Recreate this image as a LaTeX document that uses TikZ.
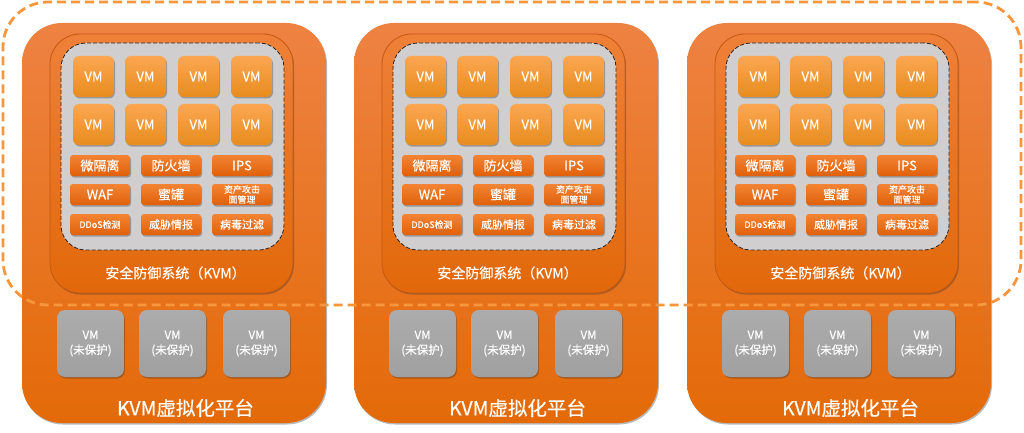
\documentclass[tikz,border=0pt]{standalone}
\usepackage{fontspec}
\setmainfont{Noto Sans CJK SC}[FakeBold=0.35]
\usetikzlibrary{shadows}
\definecolor{platTop}{RGB}{238,130,66}
\definecolor{platBot}{RGB}{228,106,8}
\definecolor{secTop}{RGB}{238,128,56}
\definecolor{secBot}{RGB}{226,104,10}
\definecolor{secEdge}{RGB}{196,88,20}
\definecolor{greyArea}{RGB}{208,206,206}
\definecolor{vmTop}{RGB}{251,166,82}
\definecolor{vmBot}{RGB}{232,140,30}
\definecolor{btnTop}{RGB}{243,132,52}
\definecolor{btnBot}{RGB}{224,96,10}
\definecolor{upTop}{RGB}{172,172,172}
\definecolor{upBot}{RGB}{160,160,160}
\definecolor{dashOrange}{RGB}{247,150,60}
\begin{document}
\begin{tikzpicture}[x=1pt,y=-1pt,
  box/.style={inner sep=0pt,outer sep=0pt},
  shad/.style={drop shadow={shadow xshift=1pt,shadow yshift=-1.5pt,opacity=0.35,fill=black!80}},
  platform/.style={box,rounded corners=40pt,top color=platTop,bottom color=platBot,minimum width=304pt,minimum height=400pt,shad},
  secbox/.style={box,rounded corners=30pt,top color=secTop,bottom color=secBot,draw=secEdge,line width=0.8pt,minimum width=243pt,minimum height=259pt,shad},
  greybox/.style={box,rounded corners=25pt,fill=greyArea,draw=black!85,line width=0.8pt,dash pattern=on 4pt off 2pt,minimum width=223pt,minimum height=207pt},
  vmbox/.style={box,rounded corners=6pt,top color=vmTop,bottom color=vmBot,minimum width=41pt,minimum height=41pt,text=white,font=\fontsize{13}{15}\selectfont,shad},
  btn/.style={box,rounded corners=3pt,top color=btnTop,bottom color=btnBot,minimum width=60pt,minimum height=21pt,text=white,align=center,font=\fontsize{13}{14}\selectfont,shad},
  upvm/.style={box,rounded corners=8pt,top color=upTop,bottom color=upBot,minimum width=67pt,minimum height=67pt,text=white,align=center,font=\fontsize{11.5}{15}\selectfont,shad},
  lbl/.style={box,text=white},
  group/.style={box,rounded corners=45pt,draw=dashOrange,line width=2.8pt,dash pattern=on 9pt off 5pt,minimum width=1018pt,minimum height=303pt}
]
\useasboundingbox (0,0) rectangle (1024,433);
\foreach \i/\dx in {1/0,2/332,3/665}{
  \node[platform] (plat\i) at (\dx+174,223) {};
  \node[secbox] (sec\i) at (\dx+171.5,163.5) {};
  \node[greybox] (grey\i) at (\dx+172.5,146.5) {};
  \foreach \r/\y in {1/76.5,2/124.5}{
    \foreach \c/\x in {1/93.5,2/145.5,3/198.5,4/251.5}{
      \node[vmbox] (vm\i-\r-\c) at (\dx+\x,\y) {VM};
    }
  }
  \node[btn] (b\i-1) at (\dx+100,165.5) {微隔离};
  \node[btn] (b\i-2) at (\dx+171,165.5) {防火墙};
  \node[btn] (b\i-3) at (\dx+242,165.5) {IPS};
  \node[btn] (b\i-4) at (\dx+100,194.5) {WAF};
  \node[btn] (b\i-5) at (\dx+171,194.5) {蜜罐};
  \node[btn,font=\fontsize{9}{10}\selectfont] (b\i-6) at (\dx+242,194.5) {资产攻击\\面管理};
  \node[btn,font=\fontsize{9}{10}\selectfont] (b\i-7) at (\dx+100,224.5) {DDoS检测};
  \node[btn,font=\fontsize{11}{12}\selectfont] (b\i-8) at (\dx+171,224.5) {威胁情报};
  \node[btn,font=\fontsize{11}{12}\selectfont] (b\i-9) at (\dx+242,224.5) {病毒过滤};
  \node[lbl,font=\fontsize{14}{16}\selectfont] (seclbl\i) at (\dx+175.5,273) {安全防御系统（KVM）};
  \foreach \u/\x in {1/90.5,2/172.5,3/256.5}{
    \node[upvm] (up\i-\u) at (\dx+\x,343.5) {VM\\(未保护)};
  }
  \node[lbl,font=\fontsize{19.5}{21}\selectfont] (platlbl\i) at (\dx+185.5,408) {KVM虚拟化平台};
}
\node[group] (grp) at (512,153.5) {};
\end{tikzpicture}
\end{document}
